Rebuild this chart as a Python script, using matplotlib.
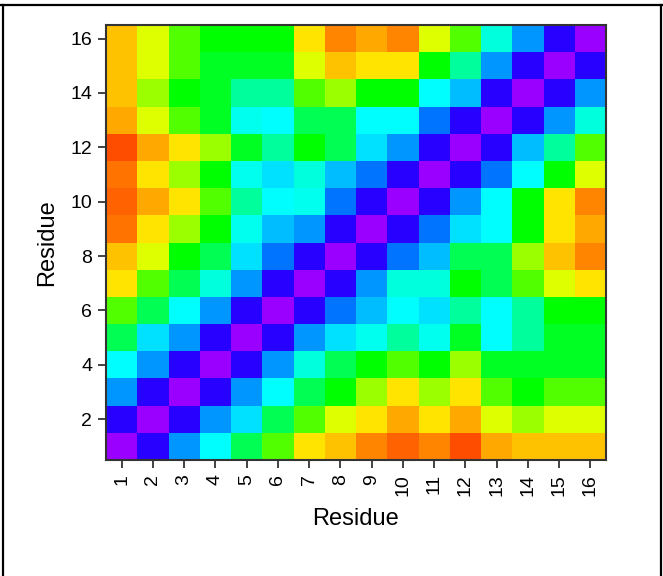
import numpy as np
import matplotlib
matplotlib.use("Agg")
import matplotlib.pyplot as plt
from matplotlib.colors import ListedColormap, hsv_to_rgb
from matplotlib.lines import Line2D

plt.rcParams["font.family"] = ["Liberation Sans", "DejaVu Sans"]

# residue numbers and the pairwise map, row i = residue i (bottom to top)
residues = list(range(1, 17))
y_ticks = [2, 4, 6, 8, 10, 12, 14, 16]

row_01 = [0, 2.1, 5.5, 7.4, 10.5, 13.5, 17.1, 17.7, 18.8, 19.4, 18.8, 19.8, 18.2, 17.7, 17.7, 17.7]
row_02 = [2.1, 0, 2.1, 5.5, 6.8, 10.5, 13.5, 16, 17.1, 18.2, 17.1, 18.2, 16, 14.8, 16, 16]
row_03 = [5.5, 2.1, 0, 2.1, 5.5, 7.4, 10.5, 12, 14.8, 17.1, 14.8, 17.1, 13.5, 12, 13.5, 13.5]
row_04 = [7.4, 5.5, 2.1, 0, 2.1, 5.5, 8.0, 10.5, 12, 13.5, 12, 14.8, 11.4, 11.4, 11.4, 11.4]
row_05 = [10.5, 6.8, 5.5, 2.1, 0, 2.1, 5.5, 6.8, 7.7, 9.2, 7.7, 11.4, 7.4, 9.2, 11.4, 11.4]
row_06 = [13.5, 10.5, 7.4, 5.5, 2.1, 0, 2.1, 4.9, 6.2, 7.4, 6.8, 9.2, 7.4, 9.2, 12, 12]
row_07 = [17.1, 13.5, 10.5, 8.0, 5.5, 2.1, 0, 2.1, 5.5, 8.0, 8.0, 12, 10.5, 13.5, 16, 17.1]
row_08 = [17.7, 16, 12, 10.5, 6.8, 4.9, 2.1, 0, 2.1, 4.9, 6.2, 10.5, 10.5, 14.8, 17.7, 18.8]
row_09 = [19.1, 17.1, 14.8, 12, 7.7, 6.2, 5.5, 2.1, 0, 2.1, 4.9, 6.8, 7.4, 12, 17.1, 18.2]
row_10 = [19.4, 18.2, 17.1, 13.5, 9.2, 7.4, 7.7, 4.9, 2.1, 0, 2.1, 5.5, 7.4, 12, 17.1, 18.8]
row_11 = [19.1, 17.1, 14.8, 12, 7.7, 6.8, 8.0, 6.2, 4.9, 2.1, 0, 2.1, 4.9, 7.4, 12, 16]
row_12 = [19.8, 18.2, 17.1, 14.8, 11.4, 9.2, 12, 10.5, 6.8, 5.5, 2.1, 0, 2.1, 6.2, 9.2, 13.5]
row_13 = [18.2, 16, 13.5, 11.4, 7.7, 7.4, 10.5, 10.5, 7.4, 7.4, 4.9, 2.1, 0, 2.1, 5.5, 8.0]
row_14 = [17.7, 14.8, 12, 11.4, 9.2, 9.2, 13.5, 14.8, 12, 12, 7.4, 6.2, 2.1, 0, 2.1, 5.5]
row_15 = [17.7, 16, 13.5, 11.4, 11.4, 11.4, 16, 17.7, 17.1, 17.1, 12, 9.2, 5.5, 2.1, 0, 2.1]
row_16 = [17.7, 16, 13.5, 12, 12, 12, 17.1, 18.8, 18.2, 18.8, 16, 13.5, 8.0, 5.5, 2.1, 0]

grid = np.array([row_01, row_02, row_03, row_04, row_05, row_06, row_07, row_08,
                 row_09, row_10, row_11, row_12, row_13, row_14, row_15, row_16])

# rainbow: purple (low) -> blue -> cyan -> green -> yellow -> red-orange (high)
hues = np.linspace(276, 16, 256) / 360.0
hsv = np.stack([hues, np.ones_like(hues), np.ones_like(hues)], axis=1)
cmap = ListedColormap(hsv_to_rgb(hsv))

fig = plt.figure(figsize=(6.63, 5.76), dpi=100)
ax = fig.add_axes([106 / 663, 116 / 576, 500 / 663, 435 / 576])

ax.pcolormesh(np.arange(0.5, 17.5), np.arange(0.5, 17.5), grid,
              cmap=cmap, vmin=0, vmax=20, shading="flat")
ax.set_xlim(0.5, 16.5)
ax.set_ylim(0.5, 16.5)

ax.set_xticks(residues)
ax.set_xticklabels([str(r) for r in residues], rotation=90, fontsize=14)
ax.set_yticks(y_ticks)
ax.set_yticklabels([str(t) for t in y_ticks], fontsize=14)
ax.tick_params(direction="out", length=6, width=1.2, color="#222222", pad=4)
for sp in ax.spines.values():
    sp.set_color("#333333")
    sp.set_linewidth(1.5)

ax.set_xlabel("Residue", fontsize=17, labelpad=9)
ax.set_ylabel("Residue", fontsize=17, labelpad=9)

# frame of the surrounding table cell
frame = dict(color="black", lw=1.6, transform=fig.transFigure)
fig.add_artist(Line2D([3 / 663, 3 / 663], [0, 1 - 5 / 576], **frame))
fig.add_artist(Line2D([661 / 663, 661 / 663], [0, 1 - 5 / 576], **frame))
fig.add_artist(Line2D([0, 1], [1 - 5 / 576, 1 - 5 / 576], **frame))

fig.savefig("out.png", dpi=100)
